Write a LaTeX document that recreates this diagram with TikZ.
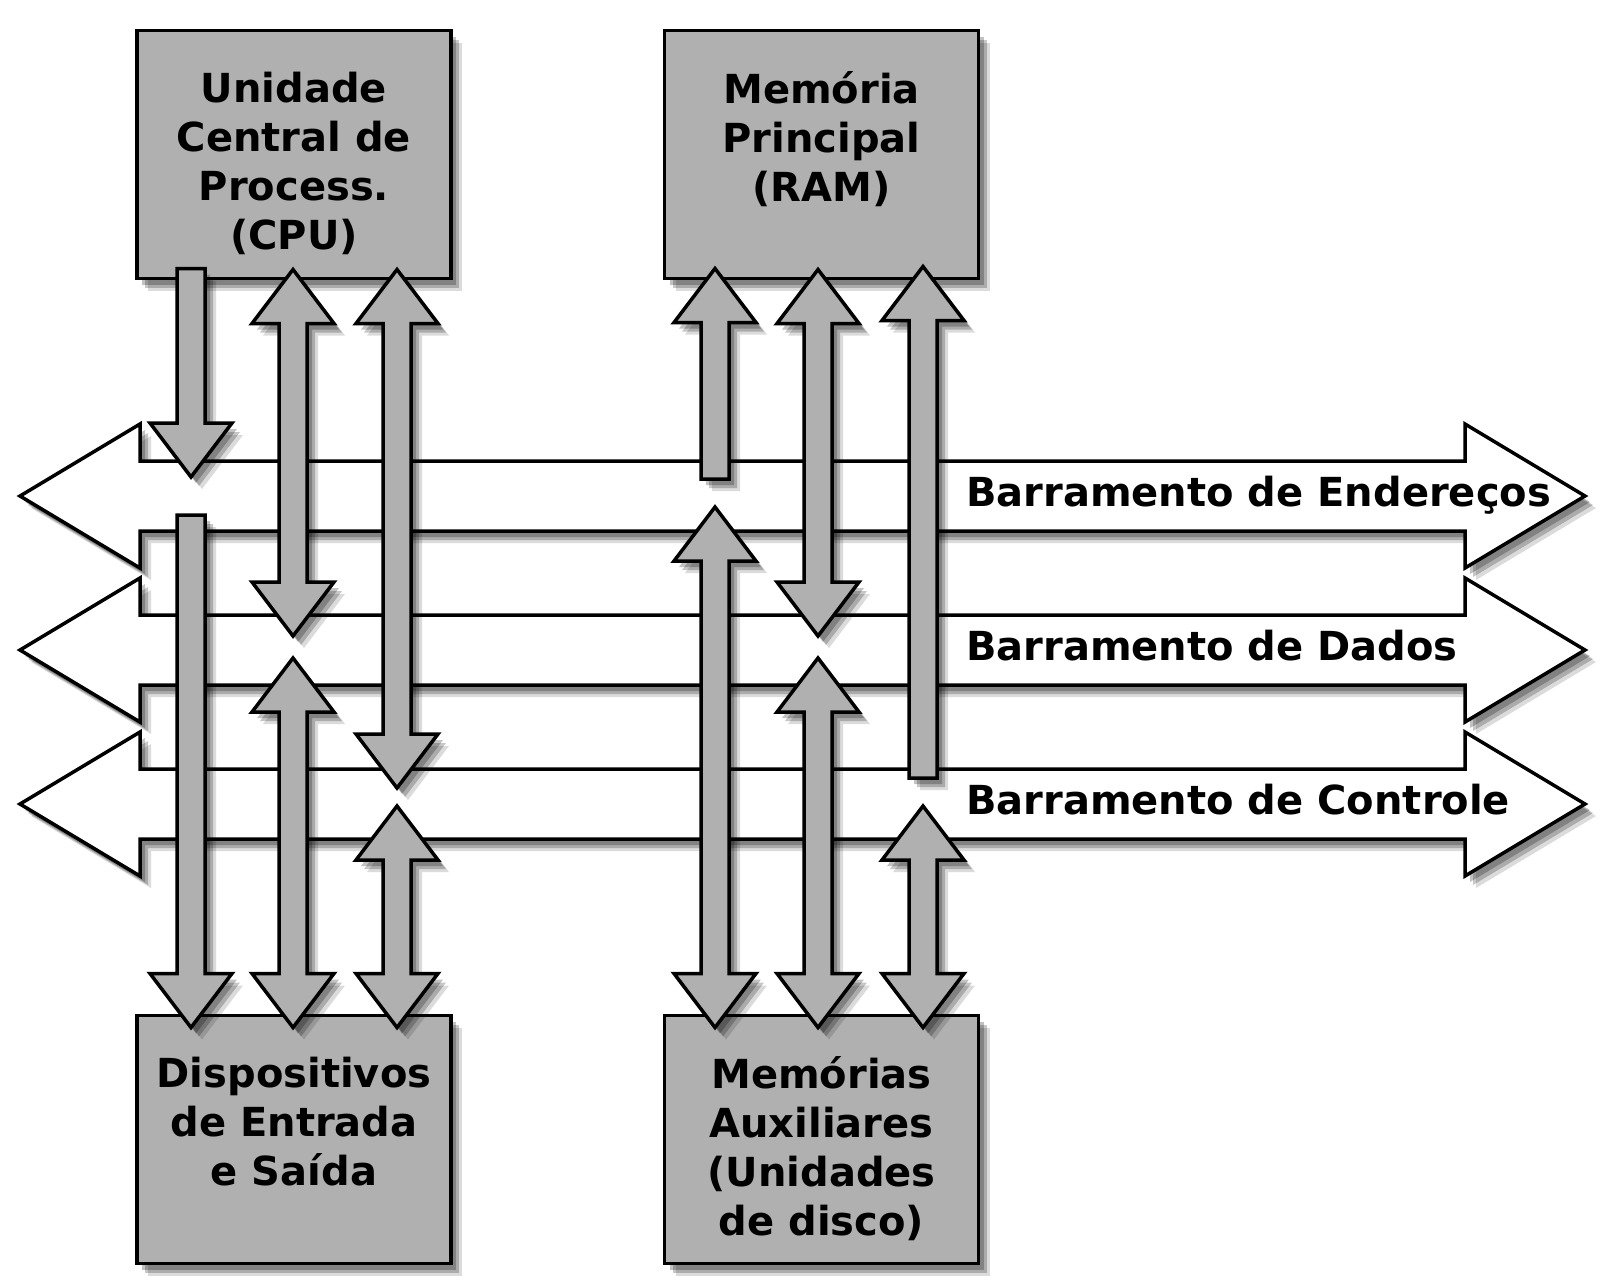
\documentclass[tikz,border=0pt]{standalone}
\usepackage{fontspec}
\setmainfont{DejaVu Sans}
\usetikzlibrary{calc,positioning,shadows}
\definecolor{boxgray}{RGB}{176,176,176}
\tikzset{
  dropsh/.style={drop shadow={shadow xshift=5pt,shadow yshift=-6pt,fill=black,opacity=.24},
    drop shadow={shadow xshift=8pt,shadow yshift=-9pt,fill=black,opacity=.22},
    drop shadow={shadow xshift=11pt,shadow yshift=-12pt,fill=black,opacity=.14}},
  unitbox/.style={draw,rectangle,line width=3.5pt,fill=boxgray,minimum width=314pt,minimum height=248pt,inner sep=0pt,outer sep=0pt,dropsh},
  boxtxt/.style={font=\fontsize{40}{49}\selectfont\bfseries,align=center,inner sep=0pt},
  bustxt/.style={font=\fontsize{40}{50}\selectfont\bfseries,anchor=base west,inner sep=0pt},
  busarr/.style={draw,fill=white,line width=3.5pt,dropsh,
    to path={let \p1=(\tikztostart),\p2=(\tikztotarget) in
      (\x1+120pt,\y1+35pt) -- (\x1+120pt,\y1+72pt) -- (\x1,\y1) -- (\x1+120pt,\y1-72pt) -- (\x1+120pt,\y1-35pt)
      -- (\x2-120pt,\y1-35pt) -- (\x2-120pt,\y1-72pt) -- (\x2,\y1) -- (\x2-120pt,\y1+72pt) -- (\x2-120pt,\y1+35pt) -- cycle}},
  vblk/.style={draw,fill=boxgray,line width=3.5pt,dropsh},
  dblarr/.style={vblk,
    to path={let \p1=(\tikztostart),\p2=(\tikztotarget) in
      (\x1-14pt,\y1-54pt) -- (\x1-41pt,\y1-54pt) -- (\x1,\y1) -- (\x1+41pt,\y1-54pt) -- (\x1+14pt,\y1-54pt)
      -- (\x1+14pt,\y2+54pt) -- (\x1+41pt,\y2+54pt) -- (\x1,\y2) -- (\x1-41pt,\y2+54pt) -- (\x1-14pt,\y2+54pt) -- cycle}},
  headdn/.style={vblk,
    to path={let \p1=(\tikztostart),\p2=(\tikztotarget) in
      (\x1-14pt,\y1) -- (\x1+14pt,\y1)
      -- (\x1+14pt,\y2+54pt) -- (\x1+41pt,\y2+54pt) -- (\x1,\y2) -- (\x1-41pt,\y2+54pt) -- (\x1-14pt,\y2+54pt) -- cycle}},
  headup/.style={vblk,
    to path={let \p1=(\tikztostart),\p2=(\tikztotarget) in
      (\x1-14pt,\y1-54pt) -- (\x1-41pt,\y1-54pt) -- (\x1,\y1) -- (\x1+41pt,\y1-54pt) -- (\x1+14pt,\y1-54pt)
      -- (\x1+14pt,\y2) -- (\x1-14pt,\y2) -- cycle}}
}

\begin{document}
\begin{tikzpicture}[x=1pt,y=-1pt]
  \useasboundingbox (0,0) rectangle (1624,1286);

  \node[unitbox] (cpu) at (294,154.5) {};
  \node[unitbox] (ram) at (821.5,154.5) {};
  \node[unitbox] (io) at (294,1139.5) {};
  \node[unitbox] (aux) at (821.5,1139.5) {};
  \node[boxtxt, below=41pt of cpu.north] (cputxt) {Unidade\\Central de\\Process.\\(CPU)};
  \node[boxtxt, below=41pt of ram.north] (ramtxt) {Memória\\Principal\\(RAM)};
  \node[boxtxt, below=41pt of io.north] (iotxt) {Dispositivos\\de Entrada\\e Saída};
  \node[boxtxt, below=41pt of aux.north] (auxtxt) {Memórias\\Auxiliares\\(Unidades\\de disco)};

  \coordinate (addrL) at (20,496);
  \coordinate (addrR) at (1585,496);
  \coordinate (dataL) at (20,650);
  \coordinate (dataR) at (1585,650);
  \coordinate (ctrlL) at (20,804);
  \coordinate (ctrlR) at (1585,804);
  \coordinate (c1) at (191,0);
  \coordinate (c2) at (293,0);
  \coordinate (c3) at (397,0);
  \coordinate (r1) at (715,0);
  \coordinate (r2) at (818,0);
  \coordinate (r3) at (923,0);

  \draw[busarr] (addrL) to (addrR);
  \draw[busarr] (dataL) to (dataR);
  \draw[busarr] (ctrlL) to (ctrlR);

  \draw[headdn] ([yshift=10pt]c1 |- cpu.south) to ([yshift=19pt]c1 |- addrL);
  \draw[dblarr] ([yshift=9pt]c2 |- cpu.south) to ([yshift=14pt]c2 |- dataL);
  \draw[dblarr] ([yshift=9pt]c3 |- cpu.south) to ([yshift=16pt]c3 |- ctrlL);
  \draw[headup] ([yshift=10pt]r1 |- ram.south) to ([yshift=17pt]r1 |- addrL);
  \draw[dblarr] ([yshift=9pt]r2 |- ram.south) to ([yshift=14pt]r2 |- dataL);
  \draw[headup] ([yshift=12pt]r3 |- ram.south) to ([yshift=26pt]r3 |- ctrlL);
  \draw[headdn] ([yshift=-19pt]c1 |- addrL) to ([yshift=-12pt]c1 |- io.north);
  \draw[dblarr] ([yshift=-8pt]c2 |- dataL) to ([yshift=-12pt]c2 |- io.north);
  \draw[dblarr] ([yshift=-2pt]c3 |- ctrlL) to ([yshift=-12pt]c3 |- io.north);
  \draw[dblarr] ([yshift=-11pt]r1 |- addrL) to ([yshift=-12pt]r1 |- aux.north);
  \draw[dblarr] ([yshift=-8pt]r2 |- dataL) to ([yshift=-12pt]r2 |- aux.north);
  \draw[dblarr] ([yshift=-2pt]r3 |- ctrlL) to ([yshift=-12pt]r3 |- aux.north);

  \node[bustxt] (addrtxt) at (966,506) {Barramento de Endereços};
  \node[bustxt] (datatxt) at (966,660) {Barramento de Dados};
  \node[bustxt] (ctrltxt) at (966,814) {Barramento de Controle};
\end{tikzpicture}
\end{document}
